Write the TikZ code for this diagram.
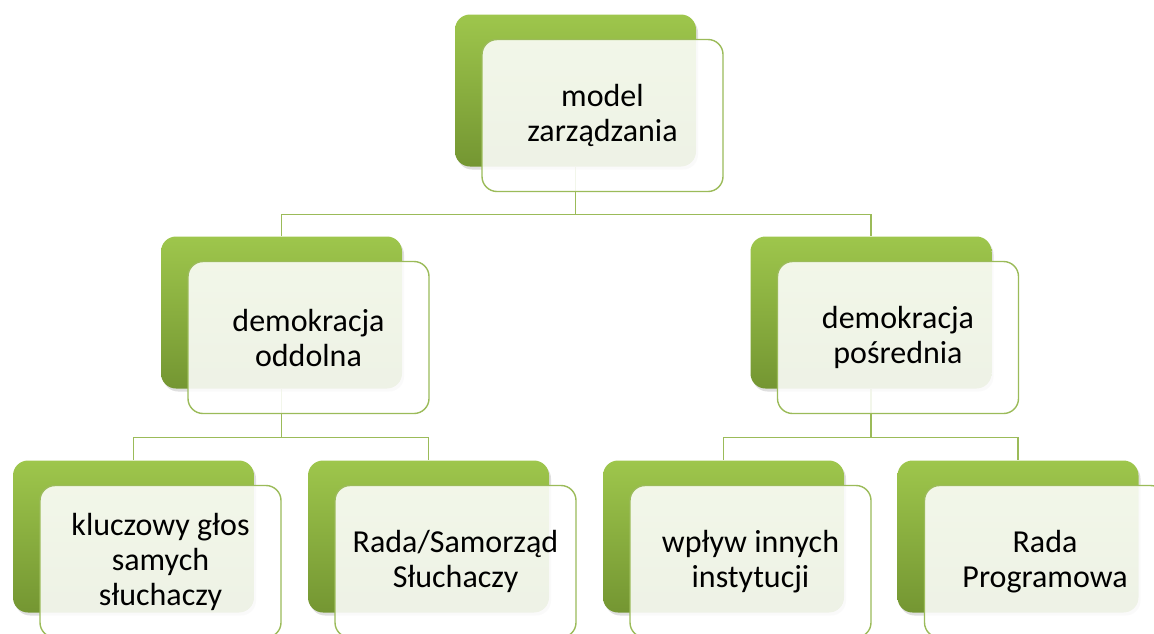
\documentclass[tikz,border=0pt]{standalone}
\usepackage{fontspec}
\setmainfont{Carlito}
\usetikzlibrary{positioning,shadows,calc,backgrounds}

\definecolor{leafgreen}{RGB}{158,198,76}
\definecolor{darkleaf}{RGB}{116,150,50}
\definecolor{linegreen}{RGB}{155,187,89}

\tikzset{
  back/.style={rounded corners=15pt, minimum width=241pt, minimum height=152pt,
    top color=leafgreen, bottom color=darkleaf,
    drop shadow={opacity=0.25, shadow xshift=2pt, shadow yshift=-3pt}},
  front/.style={rounded corners=15pt, minimum width=241pt, minimum height=152pt,
    xshift=27pt, yshift=-25pt,
    draw=linegreen, line width=1.4pt, fill=white, fill opacity=0.88, text opacity=1,
    draw opacity=1, align=center, font=\fontsize{32}{35}\selectfont},
  link/.style={draw=linegreen, line width=1.4pt}
}

\begin{document}
\begin{tikzpicture}[x=1pt,y=-1pt]
\clip (0,0) rectangle (1154,633);
\useasboundingbox (0,0) rectangle (1154,633);

% top level
\node[back] (mzb) at (575.5,90.5) {};
\node[front] (mz) at (mzb) {model\\zarządzania};

% second level
\node[back] (dob) at (281.5,312.5) {};
\node[front] (do) at (dob) {demokracja\\oddolna};
\node[back] (dpb) at (871,312.5) {};
\node[front] (dp) at (dpb) {demokracja\\pośrednia};

% third level
\node[back] (k1b) at (133.5,536.5) {};
\node[front] (k1) at (k1b) {kluczowy głos\\samych\\słuchaczy};
\node[back] (k2b) at (428.5,536.5) {};
\node[front] (k2) at (k2b) {Rada/Samorząd\\Słuchaczy};
\node[back] (k3b) at (723.5,536.5) {};
\node[front] (k3) at (k3b) {wpływ innych\\instytucji};
\node[back] (k4b) at (1018,536.5) {};
\node[front] (k4) at (k4b) {Rada\\Programowa};

\begin{scope}[on background layer]
\coordinate (bus1) at ($(mz.south)!0.5!(dob.north)$);
\coordinate (bus2) at ($(do.south)!0.5!(k1b.north)$);
\coordinate (bus3) at ($(dp.south)!0.5!(k3b.north)$);
\draw[link] (mzb.south) -- (mzb.south |- bus1) -| (dob.north);
\draw[link] (mzb.south |- bus1) -| (dpb.north);
\draw[link] (dob.south) -- (dob.south |- bus2) -| (k1b.north);
\draw[link] (dob.south |- bus2) -| (k2b.north);
\draw[link] (dpb.south) -- (dpb.south |- bus3) -| (k3b.north);
\draw[link] (dpb.south |- bus3) -| (k4b.north);
\end{scope}
\end{tikzpicture}
\end{document}
